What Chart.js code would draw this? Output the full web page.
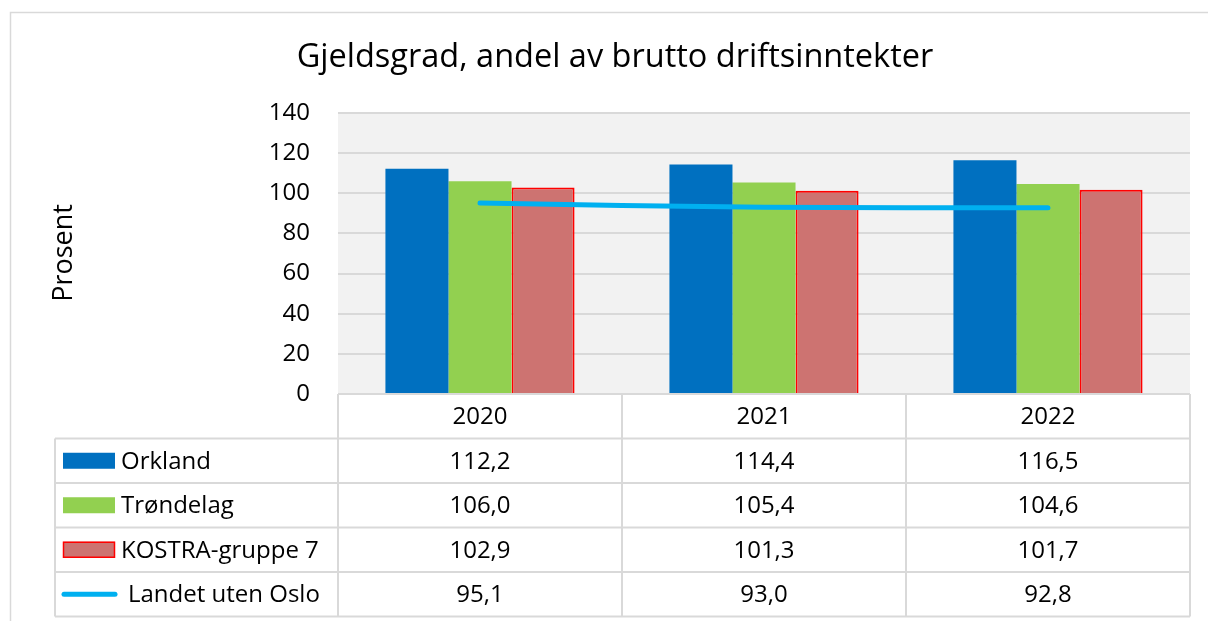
<!DOCTYPE html>
<html>
<head>
<meta charset="utf-8">
<script src="https://cdn.jsdelivr.net/npm/chart.js@4"></script>
<style>
html,body{margin:0;padding:0;background:#fff;}
#wrap{width:1208px;height:621px;position:relative;}
</style>
</head>
<body>
<div id="wrap"><canvas id="c" width="1208" height="621"></canvas></div>
<script>
const categories = ['2020', '2021', '2022'];
const orkland = [112.2, 114.4, 116.5];
const trondelag = [106.0, 105.4, 104.6];
const kostra = [102.9, 101.3, 101.7];
const landet = [95.1, 93.0, 92.8];
const seriesNames = ['Orkland', 'Trøndelag', 'KOSTRA-gruppe 7', 'Landet uten Oslo'];
const yTicks = [0, 20, 40, 60, 80, 100, 120, 140];

const FONT = "'Open Sans', 'Noto Sans', sans-serif";
const GRID = '#d9d9d9';

const fmt = v => v.toFixed(1).replace('.', ',');

const tablePlugin = {
  id: 'tablePlugin',
  beforeDraw(chart) {
    const ctx = chart.ctx;
    const a = chart.chartArea;
    ctx.save();
    // outer frame
    ctx.strokeStyle = '#d9d9d9';
    ctx.lineWidth = 1.5;
    ctx.beginPath();
    ctx.moveTo(10.5, 621);
    ctx.lineTo(10.5, 12.5);
    ctx.lineTo(1208, 12.5);
    ctx.stroke();
    // plot background
    ctx.fillStyle = '#f2f2f2';
    ctx.fillRect(a.left, a.top, a.right - a.left, a.bottom - a.top);
    ctx.restore();
  },
  afterDraw(chart) {
    const ctx = chart.ctx;
    const a = chart.chartArea;
    const x = chart.scales.x;
    const n = categories.length;
    const cw = (a.right - a.left) / n;
    const rowH = 44.5;
    const top = a.bottom;
    const rows = [orkland, trondelag, kostra, landet];
    const leftX = 55;
    const bottom = top + rowH * 5;
    ctx.save();
    ctx.strokeStyle = GRID;
    ctx.lineWidth = 2;
    ctx.beginPath();
    // horizontal lines
    ctx.moveTo(a.left, top); ctx.lineTo(a.right, top);
    for (let r = 1; r <= 5; r++) {
      const yy = top + r * rowH;
      ctx.moveTo(leftX, yy); ctx.lineTo(a.right, yy);
    }
    // vertical lines
    for (let i = 0; i <= n; i++) {
      const xx = a.left + i * cw;
      ctx.moveTo(xx, top); ctx.lineTo(xx, bottom);
    }
    ctx.moveTo(leftX, top + rowH); ctx.lineTo(leftX, bottom);
    ctx.stroke();

    ctx.fillStyle = '#000';
    ctx.font = '24px ' + FONT;
    ctx.textAlign = 'center';
    ctx.textBaseline = 'middle';
    categories.forEach((c, i) => {
      const cx = x.getPixelForValue(i);
      ctx.fillText(c, cx, top + rowH / 2 + 1);
      rows.forEach((arr, r) => {
        ctx.fillText(fmt(arr[i]), cx, top + rowH * (r + 1.5) + 1);
      });
    });
    // legend keys
    const ds = chart.data.datasets;
    ctx.textAlign = 'left';
    for (let r = 0; r < 4; r++) {
      const cy = top + rowH * (r + 1.5);
      const d = ds[r];
      if (d.type === 'line') {
        ctx.strokeStyle = d.borderColor;
        ctx.lineWidth = 5;
        ctx.lineCap = 'round';
        ctx.beginPath();
        ctx.moveTo(64, cy); ctx.lineTo(115, cy);
        ctx.stroke();
        ctx.fillStyle = '#000';
        ctx.fillText(seriesNames[r], 128, cy + 1);
      } else {
        ctx.fillStyle = d.backgroundColor;
        ctx.fillRect(63, cy - 8, 52, 16);
        if (d.borderWidth) {
          ctx.strokeStyle = d.borderColor;
          ctx.lineWidth = 1.5;
          ctx.strokeRect(63.5, cy - 7.5, 51, 15);
        }
        ctx.fillStyle = '#000';
        ctx.fillText(seriesNames[r], 121, cy + 1);
      }
    }
    // y axis title
    ctx.save();
    ctx.translate(64, 253);
    ctx.rotate(-Math.PI / 2);
    ctx.textAlign = 'center';
    ctx.font = '27px ' + FONT;
    ctx.fillText('Prosent', 0, 0);
    ctx.restore();
    ctx.restore();
  }
};

new Chart(document.getElementById('c'), {
  data: {
    labels: categories,
    datasets: [
      { type: 'bar', label: seriesNames[0], data: orkland, backgroundColor: '#0070c0', borderWidth: 0, order: 2 },
      { type: 'bar', label: seriesNames[1], data: trondelag, backgroundColor: '#92d050', borderWidth: 0, order: 2 },
      { type: 'bar', label: seriesNames[2], data: kostra, backgroundColor: '#cd7371', borderColor: '#ff0000', borderWidth: 2, order: 2 },
      { type: 'line', label: seriesNames[3], data: landet, borderColor: '#00b0f0', backgroundColor: '#00b0f0', borderWidth: 5, borderCapStyle: 'round', pointRadius: 0, tension: 0.3, order: 1 }
    ]
  },
  options: {
    responsive: false,
    animation: false,
    events: [],
    layout: { padding: { left: 40, right: 18, top: 0, bottom: 227 } },
    datasets: { bar: { categoryPercentage: 0.666, barPercentage: 1.0 } },
    plugins: {
      legend: { display: false },
      tooltip: { enabled: false },
      title: {
        display: true,
        text: 'Gjeldsgrad, andel av brutto driftsinntekter',
        color: '#000',
        font: { family: FONT, size: 32.5, weight: 'normal', lineHeight: 1.2 },
        padding: { top: 38, bottom: 36 }
      }
    },
    scales: {
      x: { display: false, offset: true },
      y: {
        min: 0, max: 140,
        afterFit(s) { s.width = 298; },
        afterBuildTicks(s) { s.ticks = yTicks.map(v => ({ value: v })); },
        border: { display: false },
        grid: { color: GRID, lineWidth: 2, drawTicks: false },
        ticks: { color: '#000', padding: 28, font: { family: FONT, size: 24 } }
      }
    }
  },
  plugins: [tablePlugin]
});
</script>
</body>
</html>
